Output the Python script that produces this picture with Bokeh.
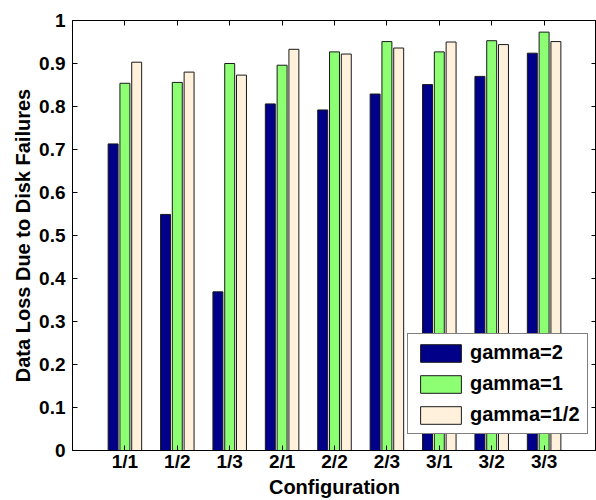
from bokeh.plotting import figure
from bokeh.models import (ColumnDataSource, FactorRange, Range1d, FixedTicker,
                          LinearAxis, CategoricalAxis, Legend, LegendItem,
                          CustomJSTickFormatter)
from bokeh.transform import dodge
from bokeh.embed import file_html
from bokeh.resources import INLINE

configs = ["1/1", "1/2", "1/3", "2/1", "2/2", "2/3", "3/1", "3/2", "3/3"]
gamma_2 = [0.713, 0.549, 0.369, 0.806, 0.792, 0.829, 0.851, 0.870, 0.924]
gamma_1 = [0.854, 0.856, 0.900, 0.896, 0.927, 0.951, 0.927, 0.953, 0.973]
gamma_half = [0.903, 0.880, 0.873, 0.933, 0.922, 0.936, 0.950, 0.944, 0.951]
series_names = ["gamma=2", "gamma=1", "gamma=1/2"]
colors = ["#000088", "#8cff73", "#fff1dc"]
y_ticks = [0, 0.1, 0.2, 0.3, 0.4, 0.5, 0.6, 0.7, 0.8, 0.9, 1]

src = ColumnDataSource(dict(cfg=configs, g2=gamma_2, g1=gamma_1, gh=gamma_half))

FONT = "Liberation Sans"

p = figure(width=596, height=500, output_backend="svg", toolbar_location=None,
           x_range=FactorRange(*configs, range_padding=0.5, range_padding_units="absolute"),
           y_range=Range1d(0, 1),
           min_border_left=72, min_border_right=0, min_border_top=20, min_border_bottom=48)
p.grid.visible = False
p.outline_line_color = "black"
p.outline_line_width = 1
p.background_fill_color = "white"
p.border_fill_color = "white"

renderers = []
for col, off, c in zip(["g2", "g1", "gh"], [-0.225, 0.0, 0.225], colors):
    r = p.vbar(x=dodge("cfg", off, range=p.x_range), top=col, width=0.19, bottom=0,
               source=src, fill_color=c, line_color="#1a1a1a", line_width=1)
    renderers.append(r)

def style_axis(ax):
    ax.axis_line_color = "black"
    ax.axis_line_width = 1
    ax.major_tick_line_color = "black"
    ax.major_tick_in = 5
    ax.major_tick_out = 0
    ax.minor_tick_line_color = None
    ax.major_label_text_font = FONT
    ax.major_label_text_font_style = "bold"
    ax.major_label_text_font_size = "19px"
    ax.major_label_text_color = "black"
    ax.axis_label_text_font = FONT
    ax.axis_label_text_font_style = "bold"
    ax.axis_label_text_font_size = "20px"
    ax.axis_label_text_color = "black"

xa = p.xaxis[0]
style_axis(xa)
xa.axis_label = "Configuration"
xa.major_label_standoff = 0
xa.axis_label_standoff = 1

ya = p.yaxis[0]
style_axis(ya)
ya.ticker = FixedTicker(ticks=y_ticks)
ya.major_label_overrides = {0: "0", 1: "1"}
ya.axis_label = "Data Loss Due to Disk Failures"
ya.major_label_standoff = 7
ya.axis_label_standoff = 2

blank = CustomJSTickFormatter(code="return ''")

top_ax = CategoricalAxis(formatter=blank)
style_axis(top_ax)
top_ax.major_label_standoff = 0
p.add_layout(top_ax, "above")

right_ax = LinearAxis(ticker=FixedTicker(ticks=y_ticks), formatter=blank)
style_axis(right_ax)
right_ax.major_label_standoff = 0
p.add_layout(right_ax, "right")

legend = Legend(items=[LegendItem(label=n, renderers=[r]) for n, r in zip(series_names, renderers)],
                location=(335, 16))
legend.glyph_width = 51
legend.glyph_height = 22
legend.label_text_font = FONT
legend.label_text_font_style = "bold"
legend.label_text_font_size = "20px"
legend.label_text_color = "black"
legend.label_standoff = 4
legend.spacing = 8
legend.padding = 7
legend.margin = 0
legend.border_line_color = "black"
legend.border_line_width = 1
legend.background_fill_color = "white"
legend.background_fill_alpha = 1
p.add_layout(legend, "center")

open("out.html", "w").write(file_html(p, INLINE))
